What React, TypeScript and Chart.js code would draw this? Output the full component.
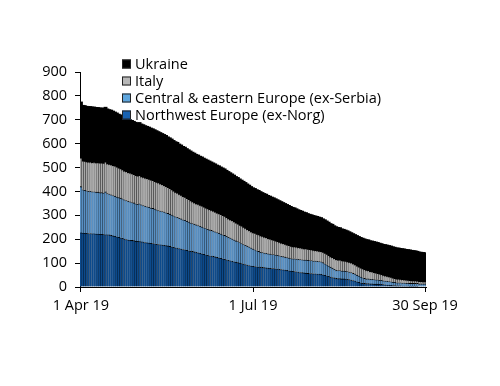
import React, { useEffect, useRef } from "react";
import { Chart, registerables } from "chart.js";

Chart.register(...registerables);

const FONT = "'Open Sans', 'Noto Sans', sans-serif";

// daily categories, 1 Apr 2019 .. 30 Sep 2019 (183 days)
const startDate = [2019, 3, 1];
const dayCount = 183;
const months = ["Jan", "Feb", "Mar", "Apr", "May", "Jun", "Jul", "Aug", "Sep", "Oct", "Nov", "Dec"];
const categories: string[] = [];
for (let i = 0; i < dayCount; i++) {
  const d = new Date(Date.UTC(startDate[0], startDate[1], startDate[2] + i));
  categories.push(`${d.getUTCDate()} ${months[d.getUTCMonth()]} 19`);
}

const tickIndices = [0, 91, 182];
const tickLabels = ["1 Apr 19", "1 Jul 19", "30 Sep 19"];
const yTicks = [0, 100, 200, 300, 400, 500, 600, 700, 800, 900];

const northwest = [
  227, 226, 225, 225, 224, 224, 223, 223, 222, 222,
  221, 221, 220, 219, 219, 218, 216, 214, 212, 210,
  208, 206, 204, 201, 199, 197, 196, 195, 194, 192,
  191, 190, 189, 188, 186, 185, 184, 183, 182, 181,
  179, 178, 177, 176, 175, 173, 172, 170, 168, 166,
  164, 163, 161, 159, 157, 156, 154, 152, 150, 149,
  147, 145, 143, 141, 139, 137, 135, 133, 131, 130,
  128, 126, 124, 122, 120, 118, 116, 114, 112, 110,
  108, 106, 104, 102, 100, 98, 96, 94, 92, 90,
  88, 87, 86, 85, 84, 83, 82, 81, 80, 79,
  78, 77, 77, 76, 75, 74, 73, 72, 71, 70,
  68, 67, 66, 65, 64, 63, 61, 60, 59, 58,
  57, 56, 56, 55, 55, 54, 54, 53, 51, 49,
  47, 45, 42, 40, 38, 36, 35, 35, 34, 34,
  33, 32, 31, 29, 27, 25, 22, 20, 18, 16,
  15, 14, 14, 13, 13, 12, 12, 12, 11, 11,
  10, 9, 8, 8, 7, 6, 6, 5, 5, 5,
  4, 4, 4, 4, 3, 3, 3, 3, 3, 2,
  2, 2, 2,
];

const centralEastern = [
  193, 181, 180, 178, 177, 177, 176, 176, 175, 175,
  174, 174, 173, 179, 172, 171, 170, 169, 168, 167,
  166, 166, 165, 164, 163, 162, 161, 159, 158, 156,
  155, 158, 155, 153, 152, 151, 150, 148, 147, 145,
  144, 142, 141, 140, 139, 138, 136, 135, 133, 132,
  130, 129, 127, 126, 124, 123, 121, 120, 118, 117,
  116, 115, 114, 113, 112, 111, 110, 109, 108, 107,
  106, 105, 104, 103, 102, 101, 100, 98, 96, 95,
  93, 91, 89, 88, 86, 84, 82, 81, 79, 77,
  75, 72, 70, 67, 65, 62, 62, 61, 61, 60,
  60, 59, 59, 58, 58, 57, 56, 55, 54, 53,
  53, 52, 52, 53, 53, 53, 54, 54, 54, 55,
  55, 55, 55, 54, 54, 54, 53, 53, 51, 48,
  46, 43, 41, 39, 36, 34, 34, 34, 33, 33,
  33, 33, 32, 32, 30, 29, 27, 26, 24, 23,
  21, 20, 20, 19, 19, 19, 18, 18, 17, 17,
  16, 16, 16, 15, 15, 14, 14, 13, 13, 13,
  13, 13, 12, 12, 12, 12, 12, 12, 12, 11,
  11, 11, 11,
];

const italy = [
  120, 120, 121, 121, 122, 122, 122, 123, 123, 123,
  124, 124, 125, 125, 125, 125, 126, 126, 126, 125,
  124, 123, 122, 121, 121, 120, 120, 120, 119, 119,
  119, 119, 118, 118, 118, 118, 117, 117, 117, 116,
  116, 116, 114, 113, 111, 110, 108, 107, 106, 104,
  103, 102, 100, 99, 98, 97, 95, 94, 93, 91,
  90, 89, 89, 88, 88, 87, 86, 86, 85, 84,
  84, 83, 82, 82, 81, 80, 80, 79, 78, 77,
  77, 76, 75, 74, 73, 73, 72, 71, 70, 69,
  68, 68, 69, 69, 70, 70, 68, 67, 66, 64,
  63, 62, 60, 59, 57, 56, 55, 55, 54, 53,
  53, 52, 51, 51, 50, 49, 49, 48, 47, 47,
  46, 46, 45, 45, 44, 44, 43, 43, 43, 44,
  44, 44, 44, 45, 45, 45, 44, 44, 43, 42,
  42, 41, 41, 40, 40, 39, 39, 38, 38, 37,
  37, 36, 35, 33, 32, 30, 29, 27, 26, 24,
  23, 22, 21, 20, 19, 18, 16, 15, 15, 14,
  14, 13, 13, 12, 12, 11, 11, 11, 10, 10,
  10, 9, 9,
];

const ukraine = [
  232, 231, 231, 230, 230, 230, 230, 229, 229, 229,
  228, 228, 228, 227, 227, 226, 226, 225, 224, 224,
  223, 223, 223, 222, 222, 222, 221, 221, 220, 220,
  219, 219, 218, 218, 217, 216, 216, 215, 214, 214,
  213, 212, 212, 211, 211, 211, 210, 210, 210, 209,
  209, 209, 208, 208, 207, 207, 207, 206, 206, 205,
  205, 204, 204, 203, 203, 202, 202, 201, 201, 200,
  199, 199, 198, 198, 197, 197, 196, 195, 195, 194,
  193, 193, 192, 192, 191, 190, 190, 189, 188, 188,
  187, 186, 185, 184, 183, 182, 181, 180, 179, 178,
  177, 176, 175, 174, 173, 172, 171, 169, 168, 167,
  165, 164, 162, 160, 158, 156, 154, 153, 151, 149,
  147, 145, 144, 143, 142, 141, 140, 139, 138, 138,
  137, 137, 136, 136, 135, 135, 134, 133, 131, 130,
  128, 127, 125, 124, 124, 124, 125, 125, 125, 126,
  126, 126, 126, 126, 126, 127, 127, 127, 127, 127,
  127, 128, 128, 128, 128, 128, 128, 128, 128, 127,
  127, 127, 126, 126, 126, 125, 124, 123, 122, 121,
  120, 120, 119,
];

const seriesNames = [
  "Northwest Europe (ex-Norg)",
  "Central & eastern Europe (ex-Serbia)",
  "Italy",
  "Ukraine",
];
const fillColors = ["#0c4a8c", "#5890c4", "#a8a8a8", "#000000"];
const swatchColors = ["#1862b2", "#5ea6de", "#b8b8b8", "#000000"];
const borderWidths = [0.5, 0.5, 0.6, 0];
const inflateAmounts = [0.3, 0.3, 0.3, 1];

const legendPlugin = {
  id: "customLegend",
  afterDraw(chart: any) {
    const ctx = chart.ctx as CanvasRenderingContext2D;
    ctx.save();
    ctx.font = `14.5px ${FONT}`;
    ctx.textBaseline = "middle";
    ctx.textAlign = "left";
    const order = [3, 2, 1, 0];
    order.forEach((si, row) => {
      const cy = 64 + row * 17;
      ctx.fillStyle = swatchColors[si];
      ctx.fillRect(122, cy - 4.5, 9, 9);
      ctx.strokeStyle = "#222";
      ctx.lineWidth = 1;
      ctx.strokeRect(122.5, cy - 4, 8, 8);
      ctx.fillStyle = "#000";
      ctx.fillText(seriesNames[si], 135, cy + 0.5);
    });
    ctx.restore();
  },
};

export default function App() {
  const ref = useRef<HTMLCanvasElement | null>(null);
  useEffect(() => {
    if (!ref.current) return;
    const data = [northwest, centralEastern, italy, ukraine];
    const chart = new Chart(ref.current, {
      type: "bar",
      data: {
        labels: categories,
        datasets: data.map((vals, i) => ({
          label: seriesNames[i],
          data: vals,
          backgroundColor: fillColors[i],
          borderColor: "#000000",
          borderWidth: borderWidths[i] > 0 ? { top: 0.8, right: borderWidths[i], left: 0, bottom: 0 } : 0,
          inflateAmount: inflateAmounts[i],
          barPercentage: 1,
          categoryPercentage: 1,
        })),
      },
      options: {
        responsive: false,
        animation: false,
        events: [],
        layout: { padding: { top: 72, right: 74, bottom: 0, left: 0 } },
        plugins: {
          legend: { display: false },
          tooltip: { enabled: false },
        },
        scales: {
          x: {
            stacked: true,
            border: { display: true, color: "#000", width: 1 },
            grid: {
              offset: false,
              drawOnChartArea: false,
              drawTicks: true,
              tickLength: 5,
              tickColor: "#000",
            },
            afterBuildTicks: (scale: any) => {
              scale.ticks = tickIndices.map((v) => ({ value: v }));
            },
            afterFit: (scale: any) => {
              scale.height = 99;
            },
            ticks: {
              autoSkip: false,
              maxRotation: 0,
              minRotation: 0,
              padding: 5,
              color: "#000",
              font: { family: FONT, size: 14.5 },
              callback: (v: any) => {
                const k = tickIndices.indexOf(Number(v));
                return k >= 0 ? tickLabels[k] : null;
              },
            },
          },
          y: {
            stacked: true,
            min: 0,
            max: 900,
            border: { display: true, color: "#000", width: 1 },
            grid: {
              drawOnChartArea: false,
              drawTicks: true,
              tickLength: 5,
              tickColor: "#000",
            },
            afterBuildTicks: (scale: any) => {
              scale.ticks = yTicks.map((v) => ({ value: v }));
            },
            afterFit: (scale: any) => {
              scale.width = 80;
            },
            ticks: {
              padding: 8,
              color: "#000",
              font: { family: FONT, size: 14.5 },
            },
          },
        },
      },
      plugins: [legendPlugin],
    });
    return () => chart.destroy();
  }, []);
  return (
    <div style={{ position: "absolute", left: 0, top: 0, width: 500, height: 386, background: "#fff" }}>
      <canvas ref={ref} width={500} height={386} style={{ width: 500, height: 386 }} />
    </div>
  );
}
